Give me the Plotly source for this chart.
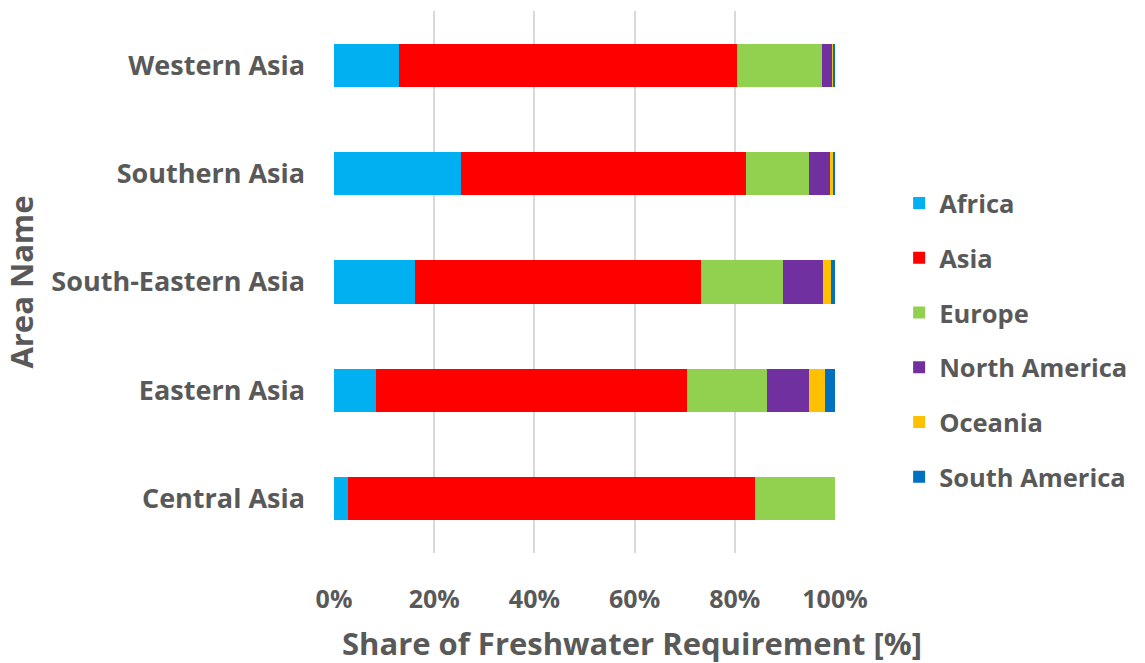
import plotly.graph_objects as go

# Share of freshwater requirement by source continent (%), per Asian sub-region
areas = ["Central Asia", "Eastern Asia", "South-Eastern Asia", "Southern Asia", "Western Asia"]

africa = [2.8, 8.4, 16.2, 25.4, 13.0]
asia = [81.2, 62.0, 57.0, 56.9, 67.4]
europe = [16.0, 16.0, 16.5, 12.6, 17.1]
north_america = [0.0, 8.5, 8.0, 4.1, 2.0]
oceania = [0.0, 3.1, 1.5, 0.7, 0.2]
south_america = [0.0, 2.0, 0.8, 0.3, 0.3]

series = [
    ("Africa", africa, "#00B0F0"),
    ("Asia", asia, "#FF0000"),
    ("Europe", europe, "#92D050"),
    ("North America", north_america, "#7030A0"),
    ("Oceania", oceania, "#FFC000"),
    ("South America", south_america, "#0070C0"),
]

x_ticks = [0, 20, 40, 60, 80, 100]
x_tick_labels = ["0%", "20%", "40%", "60%", "80%", "100%"]

TEXT = "#595959"
FONT = "Open Sans"

fig = go.Figure()
for name, vals, color in series:
    fig.add_trace(go.Bar(
        y=areas, x=vals, name=name, orientation="h",
        marker=dict(color=color, line=dict(width=0)),
        legendgroup=name,
    ))

fig.update_layout(
    barmode="stack",
    bargap=0.6,
    width=1145, height=663,
    margin=dict(l=334, r=310, t=11, b=110),
    plot_bgcolor="white", paper_bgcolor="white",
    font=dict(family=FONT, color=TEXT, size=26, weight="bold"),
    legend=dict(
        x=1.128, xanchor="left", y=0.393, yanchor="middle",
        traceorder="grouped", tracegroupgap=18.6,
        font=dict(family=FONT, color=TEXT, size=25.5, weight="bold"),
        itemwidth=30,
    ),
    xaxis=dict(
        range=[0, 100], tickvals=x_ticks, ticktext=x_tick_labels,
        showgrid=True, gridcolor="#D9D9D9", gridwidth=2,
        zeroline=False, showline=False,
        ticklabelstandoff=29,
        tickfont=dict(size=25, family=FONT, color=TEXT, weight="bold"),
    ),
    yaxis=dict(
        categoryorder="array", categoryarray=areas,
        showgrid=False, zeroline=False, showline=False,
        ticklabelstandoff=28,
        tickfont=dict(size=27, family=FONT, color=TEXT, weight="bold"),
        title=dict(text="Area Name",
                   font=dict(size=31, family=FONT, color=TEXT, weight="bold"),
                   standoff=12),
    ),
    annotations=[dict(
        text="Share of Freshwater Requirement [%]",
        xref="paper", yref="paper", x=0.595, y=-0.166,
        xanchor="center", yanchor="middle", showarrow=False,
        font=dict(size=31, family=FONT, color=TEXT, weight="bold"),
    )],
)

fig.write_html("out.html")
